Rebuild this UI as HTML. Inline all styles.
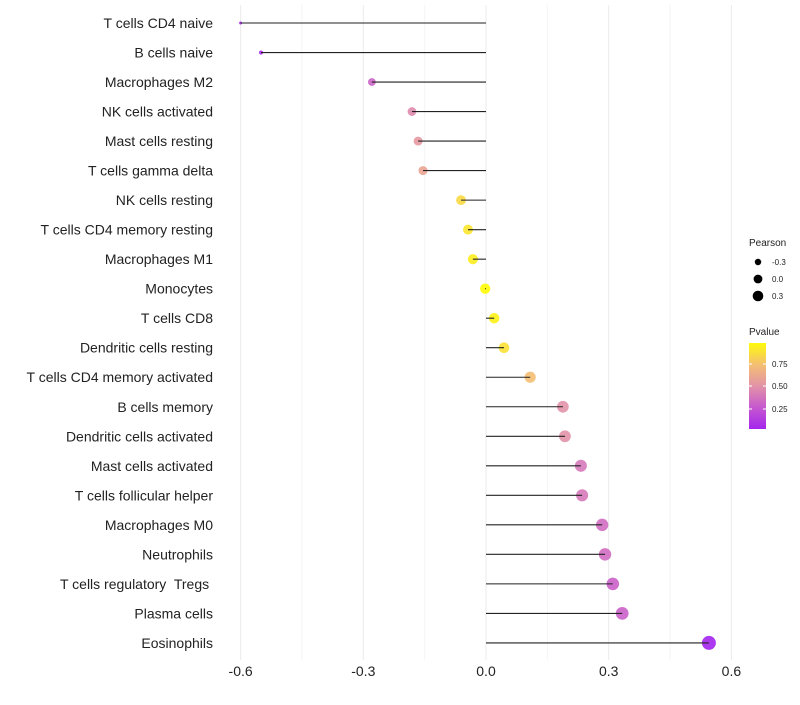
<!DOCTYPE html>
<html><head><meta charset="utf-8"><style>
body{margin:0;background:#fff;font-family:"Liberation Sans",sans-serif}
text{white-space:pre}
</style></head><body>
<svg id="c" width="800" height="700" xmlns="http://www.w3.org/2000/svg"></svg>
<script>
const categories=["T cells CD4 naive","B cells naive","Macrophages M2","NK cells activated","Mast cells resting","T cells gamma delta","NK cells resting","T cells CD4 memory resting","Macrophages M1","Monocytes","T cells CD8","Dendritic cells resting","T cells CD4 memory activated","B cells memory","Dendritic cells activated","Mast cells activated","T cells follicular helper","Macrophages M0","Neutrophils","T cells regulatory  Tregs ","Plasma cells","Eosinophils"];
const pearson=[-0.6,-0.55,-0.279,-0.181,-0.166,-0.154,-0.061,-0.044,-0.032,-0.002,0.02,0.044,0.108,0.188,0.193,0.232,0.235,0.284,0.291,0.31,0.333,0.545];
const pvalue=[0.03,0.05,0.32,0.47,0.53,0.6,0.85,0.9,0.93,0.99,0.95,0.88,0.74,0.5,0.5,0.4,0.4,0.35,0.35,0.3,0.3,0.02];
const xTicks=[-0.6,-0.3,0,0.3,0.6];
const xTickLabels=["-0.6","-0.3","0.0","0.3","0.6"];
const NS="http://www.w3.org/2000/svg",svg=document.getElementById('c');
const xs=v=>486+v*409, ys=i=>23+i*29.52;
function mk(t,a,p){const e=document.createElementNS(NS,t);for(const k in a)e.setAttribute(k,a[k]);(p||svg).appendChild(e);return e;}
const stops=[[0,[160,32,240]],[0.25,[196,84,210]],[0.5,[226,146,168]],[0.75,[245,192,112]],[1,[255,255,0]]];
function col(p){let k=0;while(k<stops.length-2&&p>stops[k+1][0])k++;const a=stops[k],b=stops[k+1];const t=Math.min(1,Math.max(0,(p-a[0])/(b[0]-a[0])));return `rgb(${a[1].map((c,i)=>Math.round(c+(b[1][i]-c)*t)).join(',')})`;}
const rad=v=>Math.sqrt(Math.max(1.5,26.7+40.8*v));
for(let i=0;i<9;i++){const v=-0.6+i*0.15;const g=mk('line',{x1:xs(v),x2:xs(v),y1:5,y2:660,stroke:i%2?'#f4f4f4':'#ebebeb','stroke-width':1});}
xTicks.forEach((v,i)=>{const t=mk('text',{x:xs(v),y:676,'text-anchor':'middle','font-size':14,fill:'#222'});t.textContent=xTickLabels[i];});
categories.forEach((c,i)=>{
 const t=mk('text',{x:213,y:ys(i)+5,'text-anchor':'end','font-size':14,fill:'#222'});t.textContent=c;
 
 const p=mk('circle',{cx:xs(pearson[i]),cy:ys(i),r:rad(pearson[i]),fill:col(pvalue[i]),'fill-opacity':0.9});
 
 const l=mk('line',{x1:xs(0),x2:xs(pearson[i]),y1:ys(i),y2:ys(i),stroke:'#222','stroke-width':1.1});
 
});
let t=mk('text',{x:749,y:246,'font-size':10,fill:'#222'});t.textContent='Pearson';
[-0.3,0,0.3].forEach((v,i)=>{const c=mk('circle',{cx:758,cy:262+i*17,r:rad(v)*0.85,fill:'#000'});
 const s=mk('text',{x:772,y:265+i*17,'font-size':8,fill:'#222'});s.textContent=v===0?'0.0':String(v);});
t=mk('text',{x:749,y:335,'font-size':10,fill:'#222'});t.textContent='Pvalue';
const d=mk('defs',{});const gr=mk('linearGradient',{id:'g',x1:0,y1:1,x2:0,y2:0},d);
[0,0.25,0.5,0.75,1].forEach(f=>{const p=0.03+f*0.95;mk('stop',{offset:f,'stop-color':col(p)},gr);});
const bar=mk('rect',{x:749,y:343,width:17,height:86,fill:'url(#g)'});
[[0.75,364],[0.5,386],[0.25,409]].forEach(a=>{mk('line',{x1:749,x2:752,y1:a[1],y2:a[1],stroke:'#fff'});mk('line',{x1:763,x2:766,y1:a[1],y2:a[1],stroke:'#fff'});
 const s=mk('text',{x:772,y:a[1]+3,'font-size':8,fill:'#222'});s.textContent=a[0].toFixed(2);});
</script>
</body></html>
